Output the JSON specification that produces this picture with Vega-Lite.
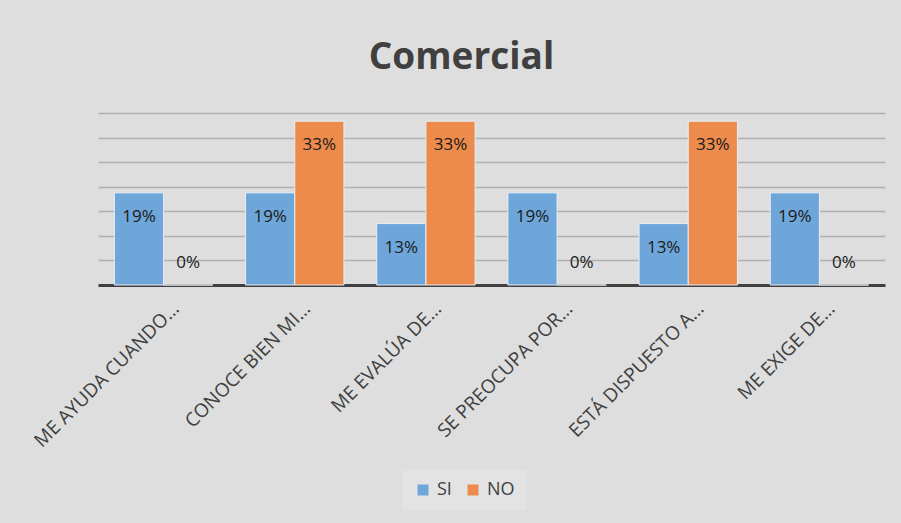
{
  "$schema": "https://vega.github.io/schema/vega-lite/v6.json",
  "width": 787,
  "height": 172,
  "autosize": {"type": "none"},
  "padding": {"left": 98, "top": 113, "right": 16, "bottom": 238},
  "background": "#dedede",
  "title": {
    "text": "Comercial",
    "font": "Open Sans",
    "fontSize": 37,
    "fontWeight": "bold",
    "color": "#404040",
    "anchor": "middle",
    "dx": -30,
    "offset": 36
  },
  "data": {
    "values": [
      {"cat": "ME AYUDA CUANDO…", "serie": "SI", "v": 0.1875},
      {"cat": "ME AYUDA CUANDO…", "serie": "NO", "v": 0},
      {"cat": "CONOCE BIEN MI…", "serie": "SI", "v": 0.1875},
      {"cat": "CONOCE BIEN MI…", "serie": "NO", "v": 0.3333},
      {"cat": "ME EVALÚA DE…", "serie": "SI", "v": 0.125},
      {"cat": "ME EVALÚA DE…", "serie": "NO", "v": 0.3333},
      {"cat": "SE PREOCUPA POR…", "serie": "SI", "v": 0.1875},
      {"cat": "SE PREOCUPA POR…", "serie": "NO", "v": 0},
      {"cat": "ESTÁ DISPUESTO A…", "serie": "SI", "v": 0.125},
      {"cat": "ESTÁ DISPUESTO A…", "serie": "NO", "v": 0.3333},
      {"cat": "ME EXIGE DE…", "serie": "SI", "v": 0.1875},
      {"cat": "ME EXIGE DE…", "serie": "NO", "v": 0}
    ]
  },
  "encoding": {
    "x": {
      "field": "cat", "type": "nominal", "sort": null,
      "scale": {"paddingInner": 0.25, "paddingOuter": 0.125},
      "axis": {
        "title": null, "labelAngle": -45, "labelAlign": "right", "labelBaseline": "top",
        "labelPadding": 14, "labelFont": "Open Sans", "labelFontSize": 19, "labelColor": "#404040",
        "labelOffset": 6,
        "ticks": false, "domainColor": "#404040", "domainWidth": 3, "labelLimit": 300
      }
    },
    "xOffset": {"field": "serie", "type": "nominal", "sort": ["SI", "NO"], "scale": {"paddingInner": 0}},
    "y": {
      "field": "v", "type": "quantitative",
      "scale": {"domain": [0, 0.35], "nice": false},
      "axis": {
        "title": null, "labels": false, "ticks": false, "domain": false,
        "values": [0.05, 0.1, 0.15, 0.2, 0.25, 0.3, 0.35],
        "grid": true, "gridColor": "#b0b0b0", "gridWidth": 1.5
      }
    }
  },
  "layer": [
    {
      "mark": {"type": "bar", "stroke": "#e8eef5", "strokeWidth": 1},
      "encoding": {
        "color": {
          "field": "serie", "type": "nominal", "sort": ["SI", "NO"],
          "scale": {"domain": ["SI", "NO"], "range": ["#6fa6d9", "#ec8b4b"]},
          "legend": {
            "title": null, "orient": "none", "legendX": 305, "legendY": 357,
            "direction": "horizontal", "symbolType": "square", "symbolSize": 120,
            "symbolStrokeWidth": 0, "labelFont": "Open Sans", "labelFontSize": 18,
            "labelColor": "#404040", "fillColor": "#e3e3e3", "padding": 11,
            "columnPadding": 12, "labelOffset": 5
          }
        }
      }
    },
    {
      "transform": [{"filter": "datum.v > 0"}],
      "mark": {"type": "text", "dy": 24, "font": "Open Sans", "fontSize": 17, "color": "#1a1a1a"},
      "encoding": {"text": {"field": "v", "type": "quantitative", "format": ".0%"}}
    },
    {
      "transform": [{"filter": "datum.v == 0"}],
      "mark": {"type": "text", "dy": -22, "font": "Open Sans", "fontSize": 17, "color": "#1a1a1a"},
      "encoding": {"text": {"field": "v", "type": "quantitative", "format": ".0%"}}
    }
  ],
  "config": {"view": {"stroke": null}}
}
